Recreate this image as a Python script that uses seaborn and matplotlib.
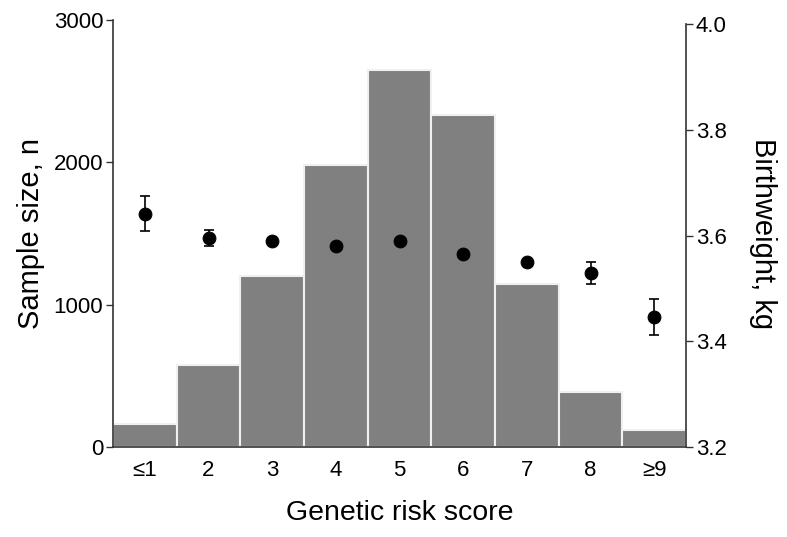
import numpy as np
import pandas as pd
import seaborn as sns
import matplotlib.pyplot as plt

# data
scores = ['≤1', '2', '3', '4', '5', '6', '7', '8', '≥9']
sample_size = [165, 575, 1205, 1980, 2645, 2333, 1145, 388, 121]
birthweight = [3.641, 3.595, 3.589, 3.580, 3.589, 3.565, 3.550, 3.529, 3.447]
bw_err = [0.033, 0.015, 0.0, 0.0, 0.0, 0.0, 0.0, 0.021, 0.034]

df = pd.DataFrame({'score': scores, 'n': sample_size, 'bw': birthweight, 'err': bw_err})

sns.set_style('ticks', {'text.color': 'black', 'axes.labelcolor': 'black',
                        'xtick.color': 'black', 'ytick.color': 'black'})
plt.rcParams['font.family'] = ['Liberation Sans', 'DejaVu Sans']

fig = plt.figure(figsize=(7.87, 5.37), dpi=100)
ax = fig.add_axes([0.1436, 0.167, 0.7281, 0.7963])

sns.barplot(data=df, x='score', y='n', color='#808080', saturation=1, width=1.0,
            edgecolor='#f0f0f0', linewidth=1.5, ax=ax)
ax.set_xlim(-0.5, 8.5)
ax.set_ylim(0, 3000)
ax.set_yticks([0, 1000, 2000, 3000])
ax.set_xlabel('Genetic risk score', fontsize=20.5, labelpad=14)
ax.set_ylabel('Sample size, n', fontsize=21, labelpad=6)
ax.tick_params(axis='y', labelsize=16, length=5, width=1, color='#333333', pad=2)
ax.tick_params(axis='x', labelsize=16, length=0, pad=9)
for s in ['left', 'bottom']:
    ax.spines[s].set_linewidth(1.2)
    ax.spines[s].set_color('#333333')
ax.spines['top'].set_visible(False)
ax.spines['right'].set_visible(False)

ax2 = ax.twinx()
xs = np.arange(len(scores))
ax2.errorbar(xs, df['bw'], yerr=df['err'], fmt='none', ecolor='black',
             elinewidth=1.2, capsize=3.5, capthick=1.2, zorder=3)
sns.scatterplot(x=xs, y=df['bw'], color='black', s=85, edgecolor='black', ax=ax2, zorder=4)
ax2.set_ylim(3.2, 4.008)
ax2.set_yticks([3.2, 3.4, 3.6, 3.8, 4.0])
ax2.set_yticklabels(['3.2', '3.4', '3.6', '3.8', '4.0'])
ax2.spines['right'].set_bounds(3.2, 4.0)
ax2.spines['right'].set_linewidth(1.2)
ax2.spines['right'].set_color('#333333')
for s in ['left', 'top', 'bottom']:
    ax2.spines[s].set_visible(False)
ax2.tick_params(axis='y', labelsize=16, length=5, width=1, color='#333333', pad=2)
ax2.set_ylabel('Birthweight, kg', fontsize=21, rotation=270, labelpad=36)
ax2.set_xlim(-0.5, 8.5)

fig.savefig('out.png', dpi=100)
